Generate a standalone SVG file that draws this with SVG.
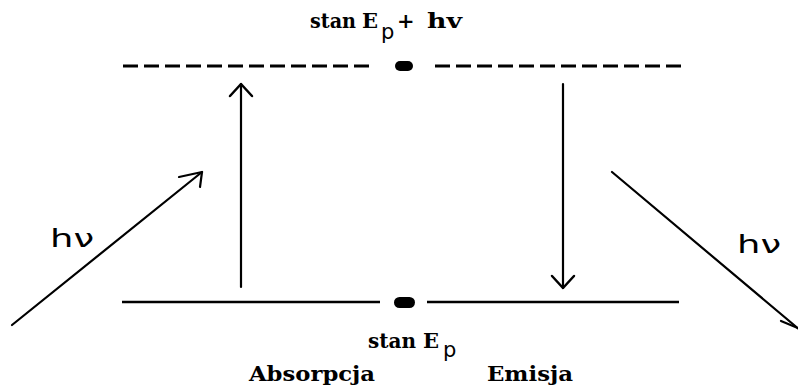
<svg xmlns="http://www.w3.org/2000/svg" width="798" height="392" viewBox="0 0 798 392">
<style>
.lvl{stroke:#000;stroke-width:2.5;fill:none}
.dash{stroke-dasharray:15 6;stroke-width:3}
.arr{stroke:#000;stroke-width:2.2;fill:none;stroke-linecap:round;stroke-linejoin:round}
.dot{fill:#000}
.lab{font-family:"DejaVu Serif","Liberation Serif",serif;font-weight:bold;font-size:21px;fill:#000}
.sub{font-family:"DejaVu Sans","Liberation Sans",sans-serif;font-size:21px;fill:#000}
.hv{font-family:"DejaVu Sans","Liberation Sans",sans-serif;font-size:24px;fill:#000}
</style>
<defs>
<marker id="chev" viewBox="-15 -14 18 28" markerWidth="18" markerHeight="28" refX="0" refY="0" orient="auto" markerUnits="userSpaceOnUse">
<path d="M-12,-11 L0,0 L-12,11" fill="none" stroke="#000" stroke-width="2.5" stroke-linecap="round" stroke-linejoin="round"/>
</marker>
</defs>
<rect width="798" height="392" fill="#fff"/>
<g id="level-upper">
<line class="lvl dash" x1="123" y1="66" x2="375" y2="66"/>
<rect class="dot" x="395" y="61" width="18" height="10" rx="5"/>
<line class="lvl dash" x1="435" y1="66" x2="681" y2="66"/>
<text class="lab" x="310" y="28" textLength="46" lengthAdjust="spacingAndGlyphs">stan</text>
<text class="lab" x="362" y="28">E</text>
<text class="sub" x="381" y="39">p</text>
<text class="lab" x="397" y="28">+</text>
<text class="lab" x="427" y="28" textLength="35" lengthAdjust="spacingAndGlyphs">hv</text>
</g>
<g id="level-lower">
<line class="lvl" x1="122" y1="302" x2="380" y2="302"/>
<rect class="dot" x="394" y="297" width="21" height="11" rx="5.5"/>
<line class="lvl" x1="427" y1="302" x2="679" y2="302"/>
<text class="lab" x="368" y="348" textLength="48" lengthAdjust="spacingAndGlyphs">stan</text>
<text class="lab" x="423" y="348">E</text>
<text class="sub" x="443" y="357">p</text>
</g>
<g id="label-absorpcja"><text class="lab" x="249" y="381" textLength="126" lengthAdjust="spacingAndGlyphs">Absorpcja</text></g>
<g id="label-emisja"><text class="lab" x="487" y="381" textLength="86" lengthAdjust="spacingAndGlyphs">Emisja</text></g>
<g id="photon-in"><text class="hv" x="50" y="247" textLength="44" lengthAdjust="spacingAndGlyphs">hν</text></g>
<g id="photon-out"><text class="hv" x="737" y="253" textLength="44" lengthAdjust="spacingAndGlyphs">hν</text></g>
<g id="connectors">
<line class="arr" x1="241" y1="287" x2="241" y2="84" marker-end="url(#chev)"/>
<line class="arr" x1="563" y1="84" x2="563" y2="288" marker-end="url(#chev)"/>
<path class="arr" d="M12,325 L202,172"/>
<path class="arr" d="M179,177 L202,172 L200,187"/>
<path class="arr" d="M612,172 L800,330"/>
<path class="arr" d="M781,321 L800,329"/>
</g>
</svg>
